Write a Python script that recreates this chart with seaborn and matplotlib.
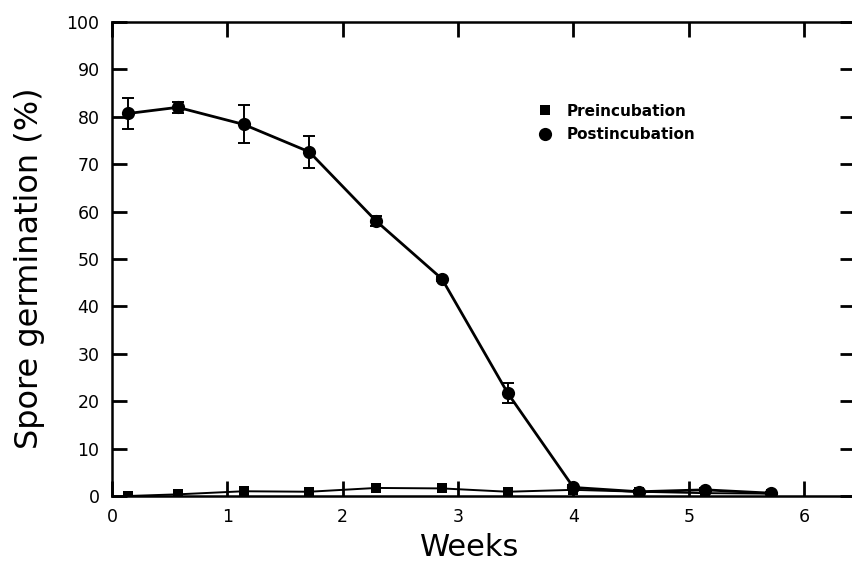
import matplotlib
matplotlib.use("Agg")
import matplotlib.pyplot as plt
import seaborn as sns
import pandas as pd
import numpy as np

# ---- data ----
weeks = [0.14, 0.57, 1.14, 1.71, 2.29, 2.86, 3.43, 4.00, 4.57, 5.14, 5.71]
post_germ = [80.7, 82.0, 78.4, 72.6, 58.0, 45.8, 21.7, 1.8, 0.9, 1.3, 0.6]
post_err = [3.3, 1.2, 4.0, 3.3, 1.0, 0.5, 2.1, 0.5, 0.3, 0.3, 0.2]
pre_germ = [0.0, 0.35, 1.0, 0.9, 1.7, 1.6, 0.9, 1.3, 0.9, 0.6, 0.5]
series_names = ["Preincubation", "Postincubation"]
x_ticks = [0, 1, 2, 3, 4, 5, 6]
y_ticks = [0, 10, 20, 30, 40, 50, 60, 70, 80, 90, 100]

df = pd.DataFrame({
    "Weeks": weeks * 2,
    "germ": pre_germ + post_germ,
    "series": [series_names[0]] * len(weeks) + [series_names[1]] * len(weeks),
})

sns.set_theme(style="ticks")
plt.rcParams["font.family"] = ["DejaVu Sans"]
plt.rcParams["text.color"] = "black"
plt.rcParams["axes.labelcolor"] = "black"

W, H = 852, 564
fig = plt.figure(figsize=(W / 100, H / 100), dpi=100)
left, right, top, bottom = 112, 855, 22, 496
ax = fig.add_axes([left / W, (H - bottom) / H, (right - left) / W, (bottom - top) / H])

# lines
sns.lineplot(data=df[df.series == series_names[0]], x="Weeks", y="germ", ax=ax,
             color="black", lw=1.4, marker="s", markersize=7.5, markeredgewidth=0,
             label=series_names[0], legend=False, zorder=3)
sns.lineplot(data=df[df.series == series_names[1]], x="Weeks", y="germ", ax=ax,
             color="black", lw=2.0, marker="o", markersize=9.5, markeredgewidth=0,
             label=series_names[1], legend=False, zorder=4)
ax.errorbar(weeks, post_germ, yerr=post_err, fmt="none", ecolor="black",
            elinewidth=1.4, capsize=4.5, capthick=1.4, zorder=4)

ax.set_xlim(0, 6.44)
ax.set_ylim(0, 100)
ax.set_xticks(x_ticks)
ax.set_yticks(y_ticks)
ax.tick_params(axis="both", direction="in", length=11, width=2.0, labelsize=12.5,
               pad=9, colors="black")
ax.tick_params(axis="x", top=True)
ax.tick_params(axis="y", right=True)
for s in ax.spines.values():
    s.set_linewidth(1.8)
    s.set_color("black")

ax.set_xlabel("Weeks", fontsize=22)
ax.xaxis.set_label_coords(470 / W, 1 - 547 / H, transform=fig.transFigure)
ax.xaxis.label.set_verticalalignment("center")
ax.set_ylabel("Spore germination (%)", fontsize=23)
ax.yaxis.set_label_coords(30 / W, 1 - 268 / H, transform=fig.transFigure)
ax.yaxis.label.set_verticalalignment("center")

leg = ax.legend(loc="upper left", bbox_to_anchor=(530 / W, 1 - 96 / H),
                bbox_transform=fig.transFigure, frameon=False,
                prop={"weight": "bold", "size": 11}, handlelength=1.0,
                handletextpad=0.9, labelspacing=0.55, borderpad=0)
for line in leg.get_lines():
    line.set_linestyle("none")

fig.savefig("out.png", dpi=100, facecolor="white")
